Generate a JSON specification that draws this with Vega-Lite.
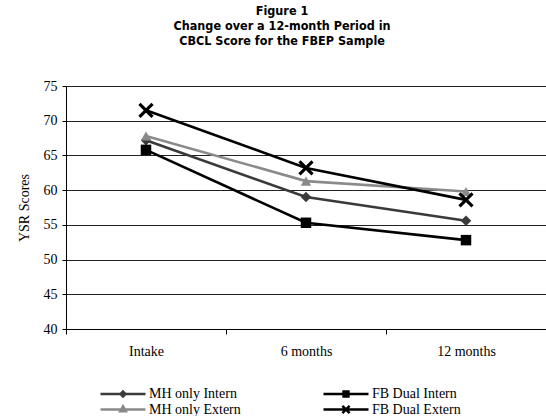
{
  "$schema": "https://vega.github.io/schema/vega-lite/v6.json",
  "width": 480,
  "height": 243,
  "autosize": "none",
  "padding": {"left": 66, "top": 86, "right": 0, "bottom": 87},
  "background": "white",
  "title": {
    "text": ["Figure 1", "Change over a 12-month Period in", "CBCL Score for the FBEP Sample"],
    "font": "DejaVu Sans Condensed",
    "fontSize": 12.5,
    "fontWeight": "bold",
    "lineHeight": 15,
    "anchor": "middle",
    "dx": -24,
    "offset": 32,
    "color": "black"
  },
  "data": {
    "values": [
      {"time": "Intake", "series": "MH only Intern", "score": 67.2},
      {"time": "6 months", "series": "MH only Intern", "score": 59.0},
      {"time": "12 months", "series": "MH only Intern", "score": 55.6},
      {"time": "Intake", "series": "MH only Extern", "score": 67.8},
      {"time": "6 months", "series": "MH only Extern", "score": 61.3},
      {"time": "12 months", "series": "MH only Extern", "score": 59.8},
      {"time": "Intake", "series": "FB Dual Intern", "score": 65.8},
      {"time": "6 months", "series": "FB Dual Intern", "score": 55.3},
      {"time": "12 months", "series": "FB Dual Intern", "score": 52.8},
      {"time": "Intake", "series": "FB Dual Extern", "score": 71.5},
      {"time": "6 months", "series": "FB Dual Extern", "score": 63.2},
      {"time": "12 months", "series": "FB Dual Extern", "score": 58.6}
    ]
  },
  "encoding": {
    "x": {
      "field": "time", "type": "ordinal", "sort": ["Intake", "6 months", "12 months"],
      "scale": {"paddingInner": 0, "paddingOuter": 0},
      "axis": {
        "title": null, "labelAngle": 0, "labelFont": "Liberation Serif", "labelFontSize": 14,
        "labelColor": "black", "domainColor": "black", "tickColor": "black", "tickBand": "extent",
        "tickSize": 5, "labelPadding": 10, "grid": false
      }
    },
    "y": {
      "field": "score", "type": "quantitative",
      "scale": {"domain": [40, 75], "nice": false, "zero": false},
      "axis": {
        "title": "YSR Scores", "titleFont": "Liberation Serif", "titleFontSize": 14, "titleFontWeight": "normal",
        "titleColor": "black", "titlePadding": 12,
        "values": [40, 45, 50, 55, 60, 65, 70, 75],
        "labelFont": "Liberation Serif", "labelFontSize": 14, "labelColor": "black",
        "domainColor": "black", "tickColor": "black", "tickSize": 4, "labelPadding": 5,
        "grid": true, "gridColor": "#222222", "gridWidth": 1
      }
    }
  },
  "layer": [
    {
      "mark": {"type": "line", "strokeWidth": 2.6},
      "encoding": {
        "color": {
          "field": "series", "type": "nominal",
          "scale": {
            "domain": ["MH only Intern", "FB Dual Intern", "MH only Extern", "FB Dual Extern"],
            "range": ["#3a3a3a", "#000000", "#8a8a8a", "#000000"]
          },
          "legend": {
            "title": null, "orient": "none", "legendX": 49.5, "legendY": 300,
            "direction": "horizontal", "columns": 2, "columnPadding": 76, "rowPadding": -4,
            "labelFont": "Liberation Serif", "labelFontSize": 14, "labelColor": "black",
            "labelOffset": 18.5, "symbolSize": 144, "symbolStrokeWidth": 2.6,
            "encode": {
              "symbols": {
                "update": {
                  "shape": {"signal": "datum.value === 'MH only Intern' ? 'M-3.75,0H3.75M0,-0.4L0.4,0L0,0.4L-0.4,0Z' : datum.value === 'MH only Extern' ? 'M-3.75,0H3.75M0,-0.5L0.45,0.3L-0.45,0.3Z' : datum.value === 'FB Dual Intern' ? 'M-3.75,0H3.75M-0.4,-0.4H0.4V0.4H-0.4Z' : 'M-3.75,0H3.75M-0.6,-0.6L0.6,0.6M-0.6,0.6L0.6,-0.6'"},
                  "fill": {"signal": "scale('color', datum.value)"},
                  "stroke": {"signal": "scale('color', datum.value)"},
                  "strokeWidth": {"value": 2.6},
                  "opacity": {"value": 1}
                }
              }
            }
          }
        }
      }
    },
    {
      "transform": [{"filter": "datum.series !== 'FB Dual Extern'"}],
      "mark": {"type": "point", "filled": true, "opacity": 1},
      "encoding": {
        "shape": {
          "field": "series", "type": "nominal",
          "scale": {
            "domain": ["MH only Intern", "FB Dual Intern", "MH only Extern"],
            "range": ["diamond", "square", "triangle-up"]
          },
          "legend": null
        },
        "size": {
          "field": "series", "type": "nominal",
          "scale": {
            "domain": ["MH only Intern", "FB Dual Intern", "MH only Extern"],
            "range": [110, 110, 130]
          },
          "legend": null
        },
        "fill": {
          "field": "series", "type": "nominal",
          "scale": {
            "domain": ["MH only Intern", "FB Dual Intern", "MH only Extern"],
            "range": ["#3a3a3a", "#000000", "#8a8a8a"]
          },
          "legend": null
        }
      }
    },
    {
      "transform": [{"filter": "datum.series === 'FB Dual Extern'"}],
      "mark": {"type": "point", "filled": false, "opacity": 1, "shape": "M-1,-1L1,1M-1,1L1,-1", "size": 170, "strokeWidth": 3.2, "color": "black"}
    }
  ]
}
